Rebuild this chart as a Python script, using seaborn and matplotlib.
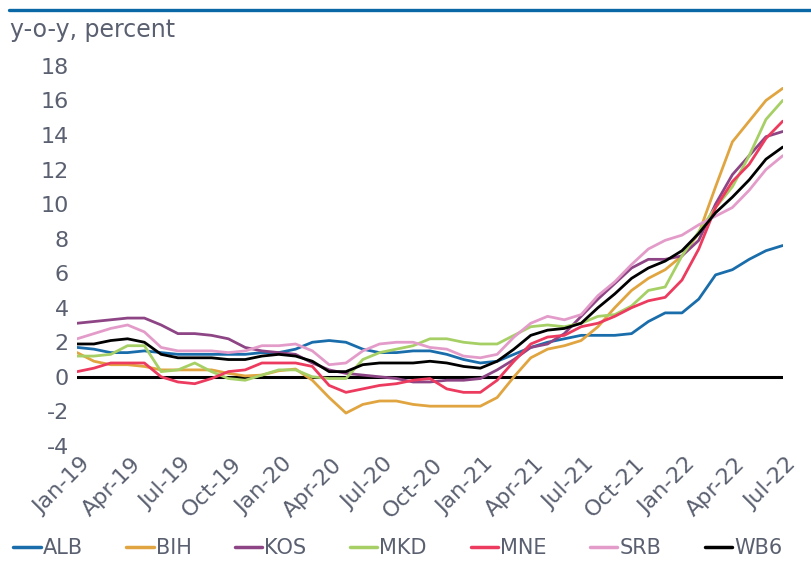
import pandas as pd
import seaborn as sns
import matplotlib.pyplot as plt
import matplotlib.transforms as mtransforms
from matplotlib.lines import Line2D

# monthly, Jan-19 .. Jul-22
months = pd.date_range('2019-01-01', '2022-07-01', freq='MS').strftime('%b-%y').tolist()
tick_labels = ['Jan-19', 'Apr-19', 'Jul-19', 'Oct-19', 'Jan-20', 'Apr-20', 'Jul-20', 'Oct-20',
               'Jan-21', 'Apr-21', 'Jul-21', 'Oct-21', 'Jan-22', 'Apr-22', 'Jul-22']

countries = ['ALB', 'BIH', 'KOS', 'MKD', 'MNE', 'SRB', 'WB6']
colors = ['#1a6dab', '#e0a540', '#8e4585', '#a6d065', '#ec3b5e', '#e39cc9', '#000000']

alb = [1.7, 1.6, 1.4, 1.4, 1.5, 1.4, 1.3, 1.3, 1.3, 1.3, 1.3, 1.4, 1.4, 1.6, 2.0, 2.1, 2.0, 1.6,
       1.4, 1.4, 1.5, 1.5, 1.3, 1.0, 0.8, 0.9, 1.3, 1.7, 2.0, 2.2, 2.4, 2.4, 2.4, 2.5, 3.2, 3.7,
       3.7, 4.5, 5.9, 6.2, 6.8, 7.3, 7.6]
bih = [1.4, 0.9, 0.7, 0.7, 0.6, 0.4, 0.4, 0.4, 0.4, 0.2, 0.05, 0.1, 0.35, 0.45, -0.2, -1.2, -2.1,
       -1.6, -1.4, -1.4, -1.6, -1.7, -1.7, -1.7, -1.7, -1.2, 0.0, 1.1, 1.6, 1.8, 2.1, 2.9, 4.0,
       5.0, 5.7, 6.2, 7.0, 8.3, 11.0, 13.6, 14.8, 16.0, 16.7]
kos = [3.1, 3.2, 3.3, 3.4, 3.4, 3.0, 2.5, 2.5, 2.4, 2.2, 1.7, 1.5, 1.4, 1.3, 0.8, 0.4, 0.2, 0.1,
       0.0, -0.1, -0.3, -0.3, -0.2, -0.2, -0.1, 0.4, 1.0, 1.7, 1.9, 2.5, 3.5, 4.5, 5.4, 6.3, 6.8,
       6.8, 7.0, 7.9, 10.0, 11.7, 12.8, 13.9, 14.2]
mkd = [1.2, 1.2, 1.3, 1.8, 1.8, 0.3, 0.4, 0.8, 0.3, -0.1, -0.2, 0.1, 0.4, 0.4, 0.0, -0.1, -0.1,
       1.0, 1.4, 1.6, 1.8, 2.2, 2.2, 2.0, 1.9, 1.9, 2.4, 2.9, 3.0, 2.9, 3.1, 3.5, 3.6, 4.1, 5.0,
       5.2, 7.0, 8.4, 9.8, 11.0, 12.8, 14.9, 16.0]
mne = [0.3, 0.5, 0.8, 0.8, 0.8, 0.0, -0.3, -0.4, -0.1, 0.3, 0.4, 0.8, 0.8, 0.8, 0.6, -0.5, -0.9,
       -0.7, -0.5, -0.4, -0.2, -0.1, -0.7, -0.9, -0.9, -0.2, 0.9, 1.9, 2.3, 2.4, 2.9, 3.1, 3.5,
       4.0, 4.4, 4.6, 5.6, 7.4, 9.8, 11.3, 12.3, 13.8, 14.8]
srb = [2.2, 2.5, 2.8, 3.0, 2.6, 1.7, 1.5, 1.5, 1.5, 1.4, 1.5, 1.8, 1.8, 1.9, 1.5, 0.7, 0.8, 1.5,
       1.9, 2.0, 2.0, 1.7, 1.6, 1.2, 1.1, 1.3, 2.3, 3.1, 3.5, 3.3, 3.6, 4.7, 5.5, 6.5, 7.4, 7.9,
       8.2, 8.8, 9.3, 9.8, 10.8, 12.0, 12.8]
wb6 = [1.9, 1.9, 2.1, 2.2, 2.0, 1.3, 1.1, 1.1, 1.1, 1.0, 1.0, 1.2, 1.3, 1.2, 0.9, 0.3, 0.3, 0.7,
       0.8, 0.8, 0.8, 0.9, 0.8, 0.6, 0.5, 0.9, 1.6, 2.4, 2.7, 2.8, 3.1, 4.0, 4.8, 5.7, 6.3, 6.7,
       7.3, 8.3, 9.5, 10.4, 11.4, 12.6, 13.3]

series = [alb, bih, kos, mkd, mne, srb, wb6]
rows = []
for name, vals in zip(countries, series):
    for i, v in enumerate(vals):
        rows.append({'idx': i, 'month': months[i], 'country': name, 'value': v})
df = pd.DataFrame(rows)

sns.set_style('white')
plt.rcParams['font.family'] = ['DejaVu Sans']
plt.rcParams['axes.unicode_minus'] = False
txt = '#5a6070'

fig, ax = plt.subplots(figsize=(8.12, 5.63), dpi=100)
fig.subplots_adjust(left=0.095, right=0.964, top=0.883, bottom=0.208)

ax.axhline(0, color='black', lw=2.2, zorder=1)
sns.lineplot(data=df, x='idx', y='value', hue='country', hue_order=countries,
             palette=dict(zip(countries, colors)), linewidth=2.0, legend=False, ax=ax, zorder=2)

ax.set_xlim(0, len(months) - 1)
ax.set_ylim(-4, 18)
ax.set_yticks(range(-4, 20, 2))
ax.set_xticks(range(0, len(months), 3))
ax.set_xticklabels(tick_labels, rotation=45, ha='right')
ax.tick_params(axis='both', length=0, labelsize=16, labelcolor=txt)
ax.tick_params(axis='y', pad=6)
ax.tick_params(axis='x', pad=6)
shift = mtransforms.ScaledTranslation(17 / 100, 0, fig.dpi_scale_trans)
for lbl in ax.get_xticklabels():
    lbl.set_transform(lbl.get_transform() + shift)
ax.set_xlabel('')
ax.set_ylabel('')
sns.despine(ax=ax, left=True, bottom=True)

# header bar and unit label
fig.add_artist(Line2D([9 / 812, 1], [1 - 9.5 / 563] * 2, color='#0a68a6', lw=2.4,
                      transform=fig.transFigure))
fig.text(10 / 812, 1 - 18 / 563, 'y-o-y, percent', ha='left', va='top', fontsize=17, color=txt)

handles = [Line2D([], [], color=c, lw=2.5) for c in colors]
fig.legend(handles, countries, loc='center', bbox_to_anchor=(0.49, 1 - 548 / 563), ncol=7,
           frameon=False, fontsize=15, labelcolor=txt, handlelength=1.3, handletextpad=0.1,
           columnspacing=2.1)

fig.savefig('out.png', dpi=100)
